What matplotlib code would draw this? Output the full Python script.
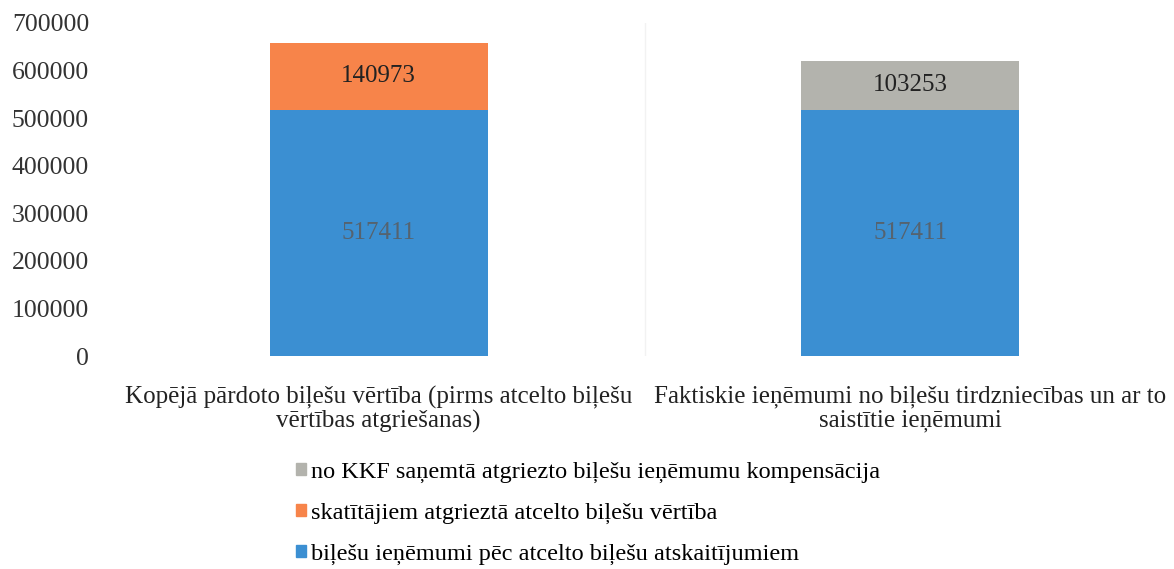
import matplotlib
matplotlib.use('Agg')
from matplotlib import pyplot as plt
from matplotlib.patches import Patch

plt.rcParams['font.family'] = ['Liberation Serif', 'DejaVu Serif']

# dati
categories = ['Kopējā pārdoto biļešu vērtība (pirms atcelto biļešu\nvērtības atgriešanas)',
              'Faktiskie ieņēmumi no biļešu tirdzniecības un ar to\nsaistītie ieņēmumi']
base_vals = [517411, 517411]
returned_vals = [140973, 0]
kkf_vals = [0, 103253]
series_names = ['biļešu ieņēmumi pēc atcelto biļešu atskaitījumiem',
                'skatītājiem atgrieztā atcelto biļešu vērtība',
                'no KKF saņemtā atgriezto biļešu ieņēmumu kompensācija']
yticks = [0, 100000, 200000, 300000, 400000, 500000, 600000, 700000]

c_blue = '#3b8fd2'
c_orange = '#f7844a'
c_gray = '#b3b3ad'

fig = plt.figure(figsize=(11.74, 5.69), dpi=100)
ax = fig.add_axes([0.096, 0.374, 0.906, 0.586])

x = [0, 1]
w = 0.41
ax.bar(x, base_vals, w, color=c_blue)
ax.bar(x, returned_vals, w, bottom=base_vals, color=c_orange)
ax.bar(x, kkf_vals, w, bottom=base_vals, color=c_gray)

# vērtību etiķetes
for i in x:
    ax.text(i, base_vals[i] / 2, str(base_vals[i]), ha='center', va='center',
            fontsize=18, color='#55636f')
    top = returned_vals[i] + kkf_vals[i]
    if top:
        ax.text(i, base_vals[i] + top / 2, str(top), ha='center', va='center',
                fontsize=18, color='#222222')

ax.set_xlim(-0.5, 1.5)
ax.set_ylim(0, 700000)
ax.set_yticks(yticks)
ax.set_yticklabels([str(t) for t in yticks], fontsize=18.5, color='#333333')
ax.set_xticks(x)
ax.set_xticklabels(categories, fontsize=18, color='#222222', linespacing=1.08)
ax.tick_params(length=0)
ax.tick_params(axis='y', pad=17)
ax.tick_params(axis='x', pad=21)
for s in ax.spines.values():
    s.set_visible(False)
ax.axvline(0.5, color='#f2f2f2', lw=1, zorder=0)

handles = [Patch(color=c_gray), Patch(color=c_orange), Patch(color=c_blue)]
labels = [series_names[2], series_names[1], series_names[0]]
fig.legend(handles, labels, loc='upper left', bbox_to_anchor=(0.244, 0.206),
           frameon=False, fontsize=17.5, handlelength=0.4, handleheight=0.4,
           handletextpad=0.2, labelspacing=0.82, borderaxespad=0)

fig.savefig('out.png', dpi=100)
